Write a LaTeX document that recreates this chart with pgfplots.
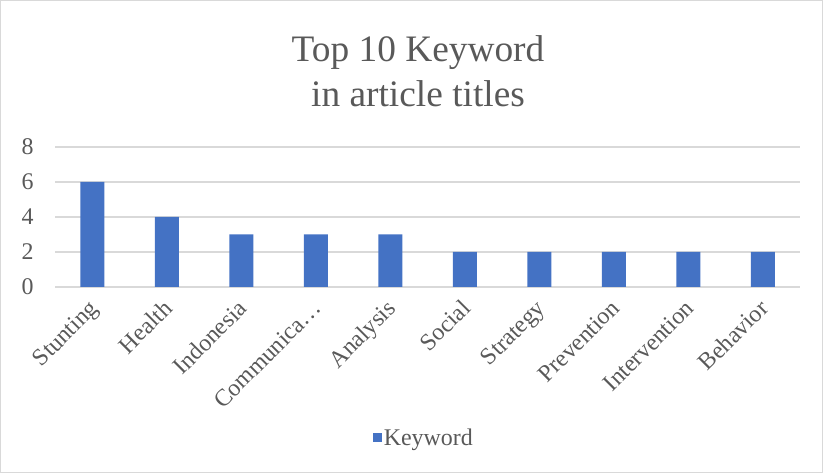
\documentclass[border=0pt]{standalone}
\usepackage{pgfplots}
\pgfplotsset{compat=1.18}
\usepackage{fontspec}
\setmainfont{Liberation Serif}
\definecolor{barblue}{HTML}{4472C4}
\definecolor{txt}{HTML}{595959}
\definecolor{gridc}{HTML}{D9D9D9}
\begin{document}
\begin{tikzpicture}[x=1bp,y=1bp]
\draw[draw=gridc, line width=1bp] (0.5,0.5) rectangle (822.5,472.5);
\node[text=txt, align=center, font=\fontsize{37.5}{45}\selectfont] at (418,402) {Top 10 Keyword\\in article titles};
\begin{axis}[
  at={(55bp,186bp)}, anchor=south west,
  scale only axis, width=745bp, height=140bp,
  xmin=-0.5, xmax=9.5, ymin=0, ymax=8,
  ytick={0,2,4,6,8},
  xtick={0,...,9},
  xticklabels={Stunting,Health,Indonesia,Communica…,Analysis,Social,Strategy,Prevention,Intervention,Behavior},
  axis line style={draw=none},
  major tick length=0pt,
  ymajorgrids, grid style={gridc, line width=1.2bp},
  ticklabel style={text=txt, font=\fontsize{24}{28}\selectfont},
  /pgf/number format/assume math mode=true,
  yticklabel style={xshift=-18bp},
  xticklabel style={xshift=7bp, yshift=-23bp, rotate=45, anchor=base east, inner sep=0bp, outer sep=0bp},
  legend style={at={(0.495,-1.08)}, anchor=center, draw=none, text=txt, font=\fontsize{24}{28}\selectfont},
  legend image code/.code={\fill[barblue] (0bp,-4bp) rectangle (9bp,5bp);},
]
\addplot[ybar, bar width=24bp, fill=barblue, draw=none] coordinates {
(0,6) (1,4) (2,3) (3,3) (4,3) (5,2) (6,2) (7,2) (8,2) (9,2)};
\addlegendentry{Keyword}
\end{axis}
\end{tikzpicture}
\end{document}
